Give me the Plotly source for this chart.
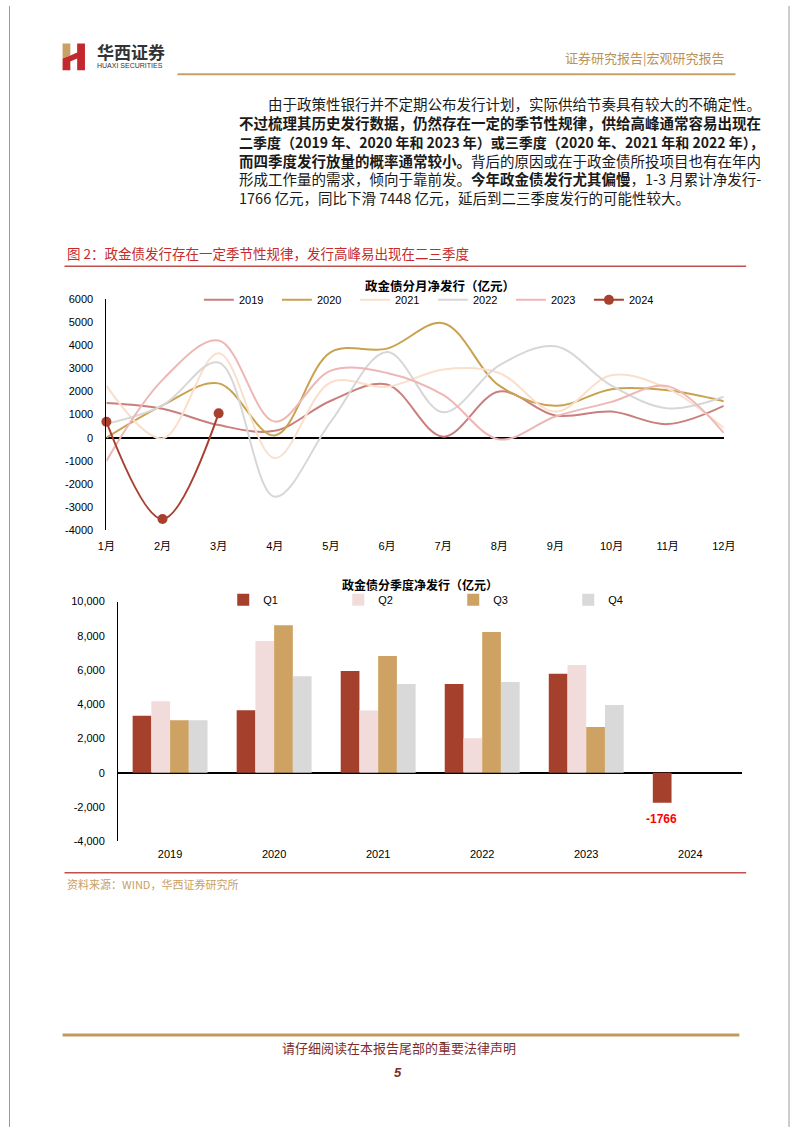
import plotly.graph_objects as go

W, H = 802, 1133

# ---------------- data ----------------
months = ["1月", "2月", "3月", "4月", "5月", "6月", "7月", "8月", "9月", "10月", "11月", "12月"]
y2019 = [1500, 1250, 550, 300, 1600, 2300, 50, 2000, 960, 1130, 590, 1380]
y2020 = [0, 1400, 2350, 100, 3700, 3850, 4950, 2250, 1380, 2100, 2050, 1580]
y2021 = [2250, -30, 3650, -880, 2400, 2200, 2950, 2800, 1130, 2700, 2120, 420]
y2022 = [600, 1400, 3250, -2550, 700, 3700, 1100, 3130, 3950, 2250, 1270, 1770]
y2023 = [-1000, 2500, 4200, 700, 2900, 2800, 1850, -70, 920, 1550, 2230, 210]
y2024 = [690, -3510, 1054]

line_ticks = [6000, 5000, 4000, 3000, 2000, 1000, 0, -1000, -2000, -3000, -4000]
line_ticktext = ["6000", "5000", "4000", "3000", "2000", "1000", "0", "-1000", "-2000", "-3000", "-4000"]

years = ["2019", "2020", "2021", "2022", "2023", "2024"]
q1 = [3320, 3650, 5950, 5180, 5780, -1766]
q2 = [4180, 7700, 3640, 2010, 6290, None]
q3 = [3060, 8620, 6820, 8220, 2670, None]
q4 = [3060, 5640, 5180, 5300, 3950, None]

bar_ticks = [10000, 8000, 6000, 4000, 2000, 0, -2000, -4000]
bar_ticktext = ["10,000", "8,000", "6,000", "4,000", "2,000", "0", "-2,000", "-4,000"]

# ---------------- helpers ----------------
def px(x):
    return x / W

def py(y):
    return 1 - y / H

FONT = "Liberation Sans, Arial, Noto Sans CJK SC, sans-serif"
CJK = "Noto Sans CJK SC, sans-serif"

line_colors = {
    "2019": "#C97F7D",
    "2020": "#C9A24F",
    "2021": "#FADFCB",
    "2022": "#D7D7D7",
    "2023": "#EDB7B6",
    "2024": "#A8402F",
}

fig = go.Figure()

series = [("2019", y2019), ("2020", y2020), ("2021", y2021), ("2022", y2022), ("2023", y2023)]
for name, vals in series:
    fig.add_trace(go.Scatter(
        x=months, y=vals, name=name, mode="lines",
        line=dict(color=line_colors[name], width=2, shape="spline", smoothing=1),
        xaxis="x", yaxis="y", legend="legend",
    ))
fig.add_trace(go.Scatter(
    x=months[:len(y2024)], y=y2024, name="2024", mode="lines+markers",
    line=dict(color=line_colors["2024"], width=2, shape="spline", smoothing=1),
    marker=dict(color=line_colors["2024"], size=10),
    xaxis="x", yaxis="y", legend="legend", cliponaxis=False,
))

bar_colors = ["#A5402D", "#F2DCDB", "#CDA262", "#D9D9D9"]
for name, vals, col in [("Q1", q1, bar_colors[0]), ("Q2", q2, bar_colors[1]),
                        ("Q3", q3, bar_colors[2]), ("Q4", q4, bar_colors[3])]:
    fig.add_trace(go.Bar(
        x=years, y=vals, name=name, marker=dict(color=col, line=dict(width=0)),
        xaxis="x2", yaxis="y2", legend="legend2", cliponaxis=False,
    ))

# ---------------- layout ----------------
axis_font = dict(family=FONT, size=11, color="#000000")
BARGAP = 0.28
fig.update_layout(
    width=W, height=H,
    margin=dict(l=0, r=0, t=0, b=0),
    paper_bgcolor="white", plot_bgcolor="white",
    barmode="group", bargap=BARGAP, bargroupgap=0,
    xaxis=dict(domain=[px(100), px(734)], range=[0, 11], type="category",
               showgrid=False, showline=False, zeroline=False, ticks="",
               tickfont=axis_font, ticklabelstandoff=8, anchor="y", fixedrange=True),
    yaxis=dict(domain=[py(530), py(296)], range=[-4000, 6000], tickvals=line_ticks,
               ticktext=line_ticktext, showgrid=False, showline=True, linecolor="#000000",
               linewidth=1, zeroline=True, zerolinecolor="#000000", zerolinewidth=1.5,
               ticks="", tickfont=axis_font, ticklabelstandoff=10, anchor="x"),
    xaxis2=dict(domain=[px(112), px(753)], type="category", range=[-0.5, len(years) - 0.5],
                showgrid=False, showline=False, zeroline=False, ticks="", tickfont=axis_font,
                ticklabelstandoff=5, anchor="y2"),
    yaxis2=dict(domain=[py(844), py(602)], range=[-4000, 10000], tickvals=bar_ticks,
                ticktext=bar_ticktext, showgrid=False, showline=True, linecolor="#000000",
                linewidth=1, zeroline=True, zerolinecolor="#000000", zerolinewidth=1.5,
                ticks="", tickfont=axis_font, ticklabelstandoff=10, anchor="x2"),
    legend=dict(orientation="h", x=px(195), y=py(297), xanchor="left", yanchor="middle",
                font=dict(family=FONT, size=11, color="#000000"), itemwidth=30,
                entrywidth=33, entrywidthmode="pixels", bgcolor="rgba(0,0,0,0)",
                traceorder="normal"),
    legend2=dict(orientation="h", x=px(220), y=py(600), xanchor="left", yanchor="middle",
                 font=dict(family=FONT, size=11, color="#000000"), itemwidth=30,
                 entrywidth=70, entrywidthmode="pixels", bgcolor="rgba(0,0,0,0)",
                 traceorder="normal"),
    showlegend=True,
)

shapes = []
# page side borders
shapes.append(dict(type="line", xref="paper", yref="paper", x0=px(0.5), x1=px(0.5), y0=0, y1=1,
                   line=dict(color="#9A9A9A", width=1)))
shapes.append(dict(type="line", xref="paper", yref="paper", x0=px(801), x1=px(801), y0=0, y1=1,
                   line=dict(color="#9A9A9A", width=1)))
# header gold line
shapes.append(dict(type="line", xref="paper", yref="paper", x0=px(173), x1=px(746), y0=py(69), y1=py(69),
                   line=dict(color="#C9A063", width=2)))
# logo
def path(points):
    return "M " + " L ".join(f"{px(x):.5f},{py(y):.5f}" for x, y in points) + " Z"

shapes.append(dict(type="path", xref="paper", yref="paper", path=path([(55, 38), (63, 38), (63, 50), (55, 53)]),
                   fillcolor="#C9A165", line=dict(width=0)))
shapes.append(dict(type="path", xref="paper", yref="paper",
                   path=path([(55, 53), (63, 50), (70, 47), (70, 38), (78, 38), (78, 65), (70, 65),
                              (70, 53), (63, 56), (63, 65), (55, 65)]),
                   fillcolor="#C3282E", line=dict(width=0)))
# caption red line
shapes.append(dict(type="line", xref="paper", yref="paper", x0=px(57), x1=px(757), y0=py(263), y1=py(263),
                   line=dict(color="#C0504D", width=1.5)))
# bottom red line
shapes.append(dict(type="line", xref="paper", yref="paper", x0=px(57), x1=px(757), y0=py(876), y1=py(876),
                   line=dict(color="#C0504D", width=1.5)))
# footer gold line
shapes.append(dict(type="line", xref="paper", yref="paper", x0=px(55), x1=px(750), y0=py(1040), y1=py(1040),
                   line=dict(color="#C49A5A", width=3)))
fig.update_layout(shapes=shapes)

ann = []
def text(x, y, s, size, color, xanchor="left", family=CJK, yanchor="middle", align="left"):
    ann.append(dict(xref="paper", yref="paper", x=px(x), y=py(y), text=s, showarrow=False,
                    xanchor=xanchor, yanchor=yanchor, align=align,
                    font=dict(family=family, size=size, color=color)))

# header
text(88, 46, "<b>华西证券</b>", 17, "#333333")
text(88.5, 60.5, "HUAXI SECURITIES", 7, "#333333", family=FONT)
text(737, 52, "证券研究报告|宏观研究报告", 13, "#B8935A", xanchor="right")

# paragraph (one block, first line indented)
para_lines = [
    "\u3000\u3000由于政策性银行并不定期公布发行计划，实际供给节奏具有较大的不确定性。",
    "<b>不过梳理其历史发行数据，仍然存在一定的季节性规律，供给高峰通常容易出现在</b>",
    "<span style='font-size:14px'><b>二季度（2019 年、2020 年和 2023 年）或三季度（2020 年、2021 年和 2022 年），</b></span>",
    "<b>而四季度发行放量的概率通常较小。</b>背后的原因或在于政金债所投项目也有在年内",
    "形成工作量的需求，倾向于靠前发。<b>今年政金债发行尤其偏慢</b>，1-3 月累计净发行-",
    "1766 亿元，同比下滑 7448 亿元，延后到二三季度发行的可能性较大。",
]
text(234, 86, "<br>".join(para_lines), 14.5, "#1A1A1A", yanchor="top")

# figure caption
text(58, 250, "图 2：政金债发行存在一定季节性规律，发行高峰易出现在二三季度", 13.5, "#C62A2A")

# chart titles
text(443, 282, "<b>政金债分月净发行（亿元）</b>", 12.5, "#000000", xanchor="center")
text(422, 585, "<b>政金债分季度净发行（亿元）</b>", 12, "#000000", xanchor="center")

# label of the negative 2024 Q1 bar (placed at the Q1 slot of the 2024 group)
cat_px = (753 - 112) / len(years)
q1_offset = -1.5 * cat_px * (1 - BARGAP) / 4
ann.append(dict(xref="x2", yref="y2", x=len(years) - 1, y=q1[-1], text=f"<b>{q1[-1]}</b>",
                showarrow=False, xanchor="center", yanchor="top", xshift=q1_offset, yshift=-7,
                font=dict(family=FONT, size=12, color="#FF0000")))

# source
text(57, 887, "资料来源：WIND，华西证券研究所", 11, "#C9A063")

# footer
text(400, 1053, "请仔细阅读在本报告尾部的重要法律声明", 13, "#7B2D2D", xanchor="center")
text(399, 1078, "<b><i>5</i></b>", 13, "#7B2D2D", xanchor="center", family=FONT)

fig.update_layout(annotations=ann)

fig.write_html(
    "out.html",
    config={"displayModeBar": False},
    post_script=("document.body.style.margin='0px';document.body.style.padding='0px';"
                 "document.documentElement.style.overflow='hidden';"
                 "document.body.style.overflow='hidden';"),
)
